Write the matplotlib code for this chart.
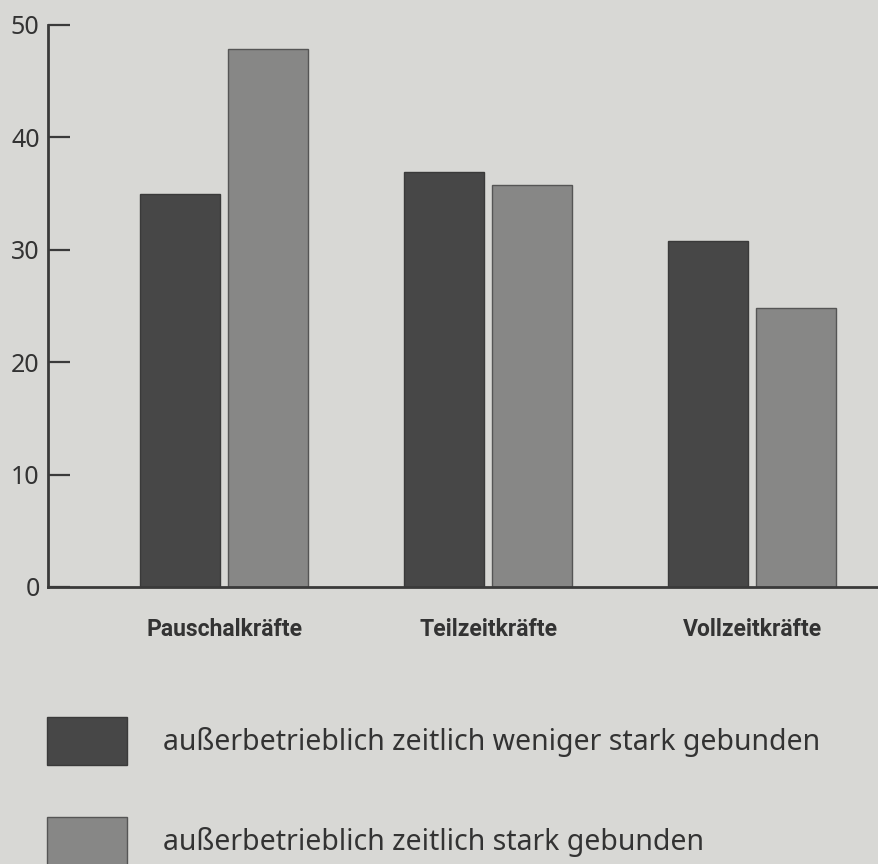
import matplotlib
matplotlib.use("Agg")
import matplotlib.pyplot as plt
import numpy as np

categories = ["Pauschalkräfte", "Teilzeitkräfte", "Vollzeitkräfte"]
series_names = ["außerbetrieblich zeitlich weniger stark gebunden",
                "außerbetrieblich zeitlich stark gebunden"]
values_weniger = [35.0, 36.9, 30.8]
values_stark = [47.9, 35.8, 24.8]
yticks = [0, 10, 20, 30, 40, 50]

bg = "#d8d8d5"
dark = "#474747"
light = "#878786"
ink = "#333333"

fig = plt.figure(figsize=(8.79, 8.64), dpi=100, facecolor=bg)
ax = fig.add_axes([48/879, 277/864, 831/879, 562/864], facecolor=bg)

x = np.arange(len(categories))
w = 0.303
off = 0.1667
b1 = ax.bar(x - off, values_weniger, w, color=dark, edgecolor="#3a3a3a", linewidth=1.0,
            label=series_names[0])
b2 = ax.bar(x + off, values_stark, w, color=light, edgecolor="#555555", linewidth=1.0,
            label=series_names[1])

ax.set_xlim(-0.667, 2.481)
ax.set_ylim(0, 50)
for s in ["top", "right"]:
    ax.spines[s].set_visible(False)
for s in ["left", "bottom"]:
    ax.spines[s].set_linewidth(2.0)
    ax.spines[s].set_color("#3a3a3a")

ax.set_yticks(yticks)
ax.set_yticklabels([str(t) for t in yticks], fontsize=18, color=ink,
                   family=["Noto Sans", "DejaVu Sans"], fontweight="bold")
ax.tick_params(axis="y", direction="in", length=16, width=1.6, color="#3a3a3a", pad=6)

ax.set_xticks(x)
ax.set_xticklabels(categories, fontsize=16.5, color=ink, fontweight="bold",
                   family=["Roboto", "DejaVu Sans"])
ax.tick_params(axis="x", length=0, pad=22)

fs = 20.5
box_h = 34.6 / fs
hh = (box_h - 0.245) / 0.65
fig.legend(handles=[b1, b2], labels=series_names, loc="upper left",
           bbox_to_anchor=(47/879, 147/864), frameon=False, borderpad=0,
           borderaxespad=0, handlelength=57.6/fs, handleheight=hh,
           handletextpad=26/fs, labelspacing=(72-34.6)/fs,
           prop={"family": ["Noto Sans", "DejaVu Sans"], "size": fs},
           labelcolor=ink)

fig.savefig("out.png", dpi=100, facecolor=bg)
